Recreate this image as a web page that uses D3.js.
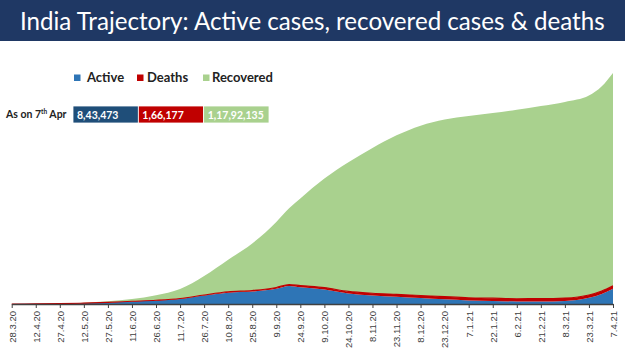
<!DOCTYPE html>
<html>
<head>
<meta charset="utf-8">
<script src="https://cdn.jsdelivr.net/npm/d3@7"></script>
<style>
    body { margin: 0; background: #fff; }
    #chart { width: 625px; height: 351px; }
</style>
</head>
<body>
<div id="chart"></div>
<script>
// values in millions
const dates = ["28.3.20","12.4.20","27.4.20","12.5.20","27.5.20","11.6.20","26.6.20","11.7.20","26.7.20","10.8.20","25.8.20","9.9.20","17.9.20","24.9.20","9.10.20","24.10.20","8.11.20","23.11.20","8.12.20","23.12.20","7.1.21","22.1.21","6.2.21","21.2.21","8.3.21","23.3.21","31.3.21","7.4.21"];
const active = [0.0008,0.007,0.02,0.047,0.085,0.14,0.19,0.28,0.47,0.63,0.69,0.84,1.0,0.93,0.80,0.58,0.47,0.40,0.33,0.26,0.20,0.17,0.14,0.14,0.17,0.34,0.56,0.843];
const deaths = [0.00003,0.0003,0.0009,0.0024,0.0045,0.0082,0.015,0.022,0.032,0.045,0.058,0.074,0.084,0.091,0.105,0.118,0.127,0.134,0.141,0.147,0.150,0.153,0.155,0.157,0.158,0.160,0.162,0.166];
const recovered = [0.0002,0.0017,0.007,0.025,0.068,0.132,0.285,0.528,1.048,1.775,2.602,3.636,4.216,4.829,6.045,7.152,8.053,8.816,9.409,9.813,10.07,10.257,10.465,10.673,10.872,11.05,11.34,11.791];

const tickLabels = ["28.3.20","12.4.20","27.4.20","12.5.20","27.5.20","11.6.20","26.6.20","11.7.20","26.7.20","10.8.20","25.8.20","9.9.20","24.9.20","9.10.20","24.10.20","8.11.20","23.11.20","8.12.20","23.12.20","7.1.21","22.1.21","6.2.21","21.2.21","8.3.21","23.3.21","7.4.21"];

const seriesNames = ["Active", "Deaths", "Recovered"];
const seriesColors = ["#2e75b6", "#c00000", "#a9d18e"];
const boxColors = ["#1f4e79", "#c00000", "#a9d18e"];
const latestLabels = ["8,43,473", "1,66,177", "1,17,92,135"];

const titleText = "India Trajectory: Active cases, recovered cases & deaths";

class TrajectoryVis {
    constructor(_parentElement) {
        this.parentElement = _parentElement;
        this.initVis();
    }

    initVis() {
        let vis = this;

        vis.width = 625;
        vis.height = 351;

        vis.svg = d3.select("#" + vis.parentElement).append("svg")
            .attr("width", vis.width)
            .attr("height", vis.height);

        // title bar
        vis.svg.append("rect")
            .attr("x", 0).attr("y", 0)
            .attr("width", vis.width).attr("height", 41)
            .attr("fill", "#1f3864");

        let title = vis.svg.append("text")
            .attr("x", 20)
            .attr("y", 30)
            .attr("fill", "white")
            .attr("font-family", "Lato, 'Open Sans', sans-serif")
            .attr("font-size", 25)
            .text(titleText);
        // squeeze font size so the title spans like the reference
        let w = title.node().getComputedTextLength();
        title.attr("font-size", 25 * 585 / w);

        vis.parseDate = d3.utcParse("%d.%m.%y");

        vis.x = d3.scaleUtc()
            .domain([vis.parseDate(tickLabels[0]), vis.parseDate(tickLabels[tickLabels.length - 1])])
            .range([11.7, 613]);

        vis.y = d3.scaleLinear()
            .range([304, 73]);

        vis.xAxis = d3.axisBottom(vis.x)
            .tickValues(tickLabels.map(d => vis.parseDate(d)))
            .tickFormat(d3.utcFormat("%-d.%-m.%y"))
            .tickSize(4)
            .tickSizeOuter(0);

        vis.wrangleData();
    }

    wrangleData() {
        let vis = this;

        vis.displayData = dates.map((d, i) => ({
            date: vis.parseDate(d),
            Active: active[i],
            Deaths: deaths[i],
            Recovered: recovered[i]
        }));

        vis.stacked = d3.stack().keys(seriesNames)(vis.displayData);

        vis.updateVis();
    }

    updateVis() {
        let vis = this;

        vis.y.domain([0, d3.max(vis.stacked[2], d => d[1])]);

        vis.color = d3.scaleOrdinal().domain(seriesNames).range(seriesColors);

        const area = d3.area()
            .x(d => vis.x(d.data.date))
            .y0(d => vis.y(d[0]))
            .y1(d => vis.y(d[1]))
            .curve(d3.curveMonotoneX);

        vis.svg.selectAll(".layer")
            .data(vis.stacked)
            .enter()
            .append("path")
            .attr("class", "layer")
            .attr("fill", d => vis.color(d.key))
            .attr("d", area);

        // deaths are a thin band, give them an outline like the original
        const deathLine = d3.line()
            .x(d => vis.x(d.data.date))
            .y(d => vis.y(d[1]))
            .curve(d3.curveMonotoneX);

        vis.svg.append("path")
            .datum(vis.stacked[1])
            .attr("fill", "none")
            .attr("stroke", "#c00000")
            .attr("stroke-width", 1.1)
            .attr("d", deathLine);

        // x axis
        let gx = vis.svg.append("g")
            .attr("class", "x-axis")
            .attr("transform", "translate(0,304)")
            .call(vis.xAxis);

        gx.select(".domain").attr("stroke", "#404040").attr("stroke-width", 1.3);
        gx.selectAll(".tick line").attr("stroke", "#404040");
        gx.selectAll(".tick text")
            .attr("transform", "rotate(-90)")
            .attr("x", -7)
            .attr("y", 0)
            .attr("dy", "0.35em")
            .attr("text-anchor", "end")
            .attr("fill", "#404040")
            .attr("font-family", "'Liberation Sans', Arial, sans-serif")
            .attr("font-size", 9.5);

        // legend
        let legendX = [74, 137, 203];
        let legendTextX = [87, 147, 212];
        seriesNames.forEach((name, i) => {
            vis.svg.append("rect")
                .attr("x", legendX[i])
                .attr("y", 74.5)
                .attr("width", 6.5)
                .attr("height", 6.5)
                .attr("fill", seriesColors[i]);
            vis.svg.append("text")
                .attr("x", legendTextX[i])
                .attr("y", 82)
                .attr("font-family", "Lato, sans-serif")
                .attr("font-weight", "bold")
                .attr("font-size", 13)
                .attr("fill", "#222")
                .text(name);
        });

        // "as on" row
        vis.svg.append("text")
            .attr("x", 6)
            .attr("y", 117.5)
            .attr("font-family", "Lato, sans-serif")
            .attr("font-weight", "bold")
            .attr("font-size", 10.5)
            .attr("fill", "#222")
            .html("As on 7<tspan font-size='6.5' dy='-4'>th</tspan><tspan dy='4'> Apr</tspan>");

        let boxX = d3.scaleBand().domain(seriesNames).range([73, 269]).padding(0);

        vis.svg.selectAll(".box")
            .data(seriesNames)
            .enter()
            .append("rect")
            .attr("class", "box")
            .attr("x", d => boxX(d))
            .attr("y", 106)
            .attr("width", boxX.bandwidth())
            .attr("height", 17)
            .attr("fill", (d, i) => boxColors[i])
            .attr("stroke", "white")
            .attr("stroke-width", 0.8);

        vis.svg.selectAll(".box-label")
            .data(seriesNames)
            .enter()
            .append("text")
            .attr("class", "box-label")
            .attr("x", d => boxX(d) + 4)
            .attr("y", 118.5)
            .attr("font-family", "Lato, sans-serif")
            .attr("font-weight", "bold")
            .attr("font-size", 10.5)
            .attr("fill", "white")
            .text((d, i) => latestLabels[i]);
    }
}

new TrajectoryVis("chart");
</script>
</body>
</html>
